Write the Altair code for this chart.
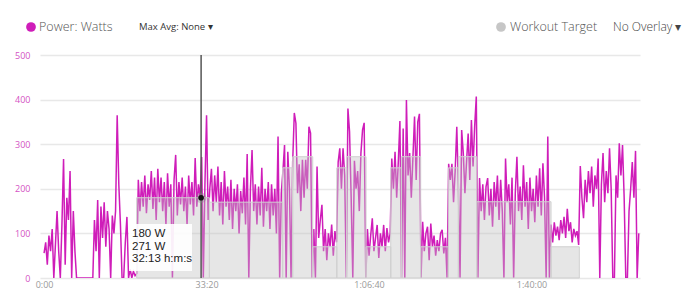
import altair as alt
import pandas as pd

# ---------------- data ----------------
SAMPLE_SECONDS = 20

warmup = [56, 80, 30, 95, 60, 110, 0, 75, 150,
          60, 0, 120, 267, 30, 180, 130, 240, 0, 150, 60, 0,
          0, 0, 0, 0, 0, 0, 0, 0, 0, 0,
          130, 60, 175, 0, 160, 90, 170, 70, 150, 110, 0, 140, 100, 150, 365, 210,
          120, 0, 0, 80, 137, 0, 20, 0, 15, 5]
block_b = [10, 220, 150, 215, 160, 230, 145, 210, 175, 240, 155, 225, 130, 245, 170,
           225, 150, 215, 120, 235, 160, 210, 0, 220, 276, 140, 215, 165, 225, 150,
           205, 120, 230, 165, 215, 140, 269, 160, 210, 180, 271, 0, 210, 365, 130]
block_c = [200, 245, 150, 230, 170, 250, 140, 215, 120, 240, 160, 205, 130, 220, 110,
           200, 150, 210, 100, 195, 145, 225, 120, 278, 0, 200, 287, 150, 210, 120,
           205, 140, 247, 115, 200, 150, 215, 110, 210, 140, 200, 100, 317, 0, 190]
set1_on = [240, 298, 0, 283, 200, 0, 260, 370, 347, 190, 255, 150, 265, 180, 265, 200, 339, 325]
set1_off = [0, 110, 0, 250, 90, 130, 164, 60, 110, 40, 100, 70, 120, 50, 105]
set2_on = [80, 260, 291, 200, 291, 230, 0, 380, 328, 180, 0, 263, 200, 240, 150, 280, 332, 348]
set2_off = [0, 110, 50, 95, 134, 60, 90, 119, 45, 100, 70, 119, 60, 112, 80]
set3_on = [100, 268, 200, 283, 180, 260, 352, 0, 335, 0, 399, 230, 280, 180, 270, 362, 220, 350, 368]
set3_off = [0, 126, 60, 100, 115, 40, 122, 70, 95, 50, 85, 60, 100, 108, 55, 90, 0]
set4_on = [256, 220, 256, 170, 240, 339, 200, 0, 332, 280, 190, 260, 324, 220, 354, 250, 340, 407]
tempo = [0, 224, 150, 210, 130, 205, 224, 140, 200, 115, 215, 160, 230, 130, 220,
         150, 0, 268, 170, 210, 120, 225, 0, 190, 272, 150, 205, 130, 253, 160,
         215, 110, 225, 150, 200, 125, 230, 160, 246, 140, 257, 180, 0, 317, 0]
cool1 = [120, 80, 125, 95, 115, 85, 130, 100, 137, 90, 155, 105, 125, 80, 110, 95, 105, 74]
cool2 = [251, 180, 134, 220, 170, 240, 190, 250, 160, 230, 200, 268, 0, 210, 280, 170,
         240, 190, 291, 200, 0, 0, 230, 180, 302, 230, 298, 180, 0, 0, 150, 200, 260,
         180, 285, 0, 100]

block_starts = [0, 1140, 2040, 2940, 3300, 3600, 3960, 4260, 4640, 4980, 5340, 6240, 6600]
blocks = [warmup, block_b, block_c, set1_on, set1_off, set2_on, set2_off,
          set3_on, set3_off, set4_on, tempo, cool1, cool2]

target_start = [1140, 2035, 2937, 3060, 3307, 3603, 3725, 3963, 4267, 4398, 4636, 4976, 5099, 5326, 6240]
target_end = [2035, 2937, 3060, 3307, 3603, 3725, 3963, 4267, 4398, 4636, 4976, 5099, 5326, 6240, 6588]
target_watts = [180, 170, 247, 272, 70, 247, 272, 70, 247, 272, 70, 247, 272, 171, 70]

x_ticks = [0, 2000, 4000, 6000]
y_ticks = [0, 100, 200, 300, 400, 500]

cursor_time = 1933
cursor_target = 180
tooltip_lines = ["180 W", "271 W", "32:13 h:m:s"]

header_left = ["Power: Watts", "Max Avg: None \u25BE"]
header_right = ["Workout Target", "No Overlay \u25BE"]

# ---------------- tables ----------------
rows = []
for start, vals in zip(block_starts, blocks):
    for k, w in enumerate(vals):
        rows.append({"t": start + k * SAMPLE_SECONDS, "w": w})
power_df = pd.DataFrame(rows)
target_df = pd.DataFrame({"t0": target_start, "t1": target_end, "w": target_watts})
cursor_df = pd.DataFrame({"t": [cursor_time], "w": [cursor_target]})
one = pd.DataFrame({"a": [0]})

MAGENTA = "#cf1db9"
W, H = 600, 223

x_scale = alt.Scale(domain=[-50, 7335], nice=False, zero=False)
y_scale = alt.Scale(domain=[0, 500], nice=False)

label_expr = (
    "datum.value >= 3600 ? "
    "floor(datum.value/3600) + ':' + (floor((datum.value%3600)/60) < 10 ? '0' : '') + floor((datum.value%3600)/60)"
    " + ':' + ((datum.value%60) < 10 ? '0' : '') + (datum.value%60)"
    " : floor(datum.value/60) + ':' + ((datum.value%60) < 10 ? '0' : '') + (datum.value%60)"
)

power = alt.Chart(power_df).mark_line(color=MAGENTA, strokeWidth=1.5, clip=True).encode(
    x=alt.X("t:Q", scale=x_scale,
            axis=alt.Axis(values=x_ticks, labelExpr=label_expr, grid=False, ticks=False,
                          domain=False, labelColor="#999999", labelFontSize=9,
                          labelFont="Open Sans", labelPadding=2, title=None)),
    y=alt.Y("w:Q", scale=y_scale,
            axis=alt.Axis(values=y_ticks, grid=True, gridColor="#e8e8e8", gridWidth=1.5,
                          ticks=False, domain=False, labelColor="#d452c4", labelFontSize=9,
                          labelFont="Open Sans", labelPadding=10, title=None)),
)

target = alt.Chart(target_df).mark_rect(
    fill="#c0c0c0", fillOpacity=0.4, stroke="#d0d0d0", strokeWidth=1
).encode(x="t0:Q", x2="t1:Q", y="w:Q", y2=alt.datum(0))

cursor_rule = alt.Chart(cursor_df).mark_rule(color="#555555", strokeWidth=1.5).encode(
    x="t:Q", y=alt.value(0), y2=alt.value(H)
)
halo = alt.Chart(cursor_df).mark_circle(color="#888888", opacity=0.35, size=110).encode(x="t:Q", y="w:Q")
dot = alt.Chart(cursor_df).mark_circle(color="#111111", opacity=1, size=32).encode(x="t:Q", y="w:Q")

box = alt.Chart(one).mark_rect(fill="white", opacity=0.9).encode(
    x=alt.value(89), x2=alt.value(152), y=alt.value(169), y2=alt.value(216)
)
tip_layers = []
for i, line in enumerate(tooltip_lines):
    tip_layers.append(
        alt.Chart(one).mark_text(align="left", baseline="middle", fontSize=11.5,
                                 font="Liberation Sans", color="#222222", text=line)
        .encode(x=alt.value(92), y=alt.value(179 + i * 12.7))
    )

hdr_y = -28
header = [
    alt.Chart(one).mark_circle(color=MAGENTA, opacity=1, size=95).encode(x=alt.value(-9), y=alt.value(hdr_y)),
    alt.Chart(one).mark_text(align="left", baseline="middle", fontSize=12.5, font="Open Sans",
                             fontWeight=300, color="#555555", text=header_left[0])
    .encode(x=alt.value(-1), y=alt.value(hdr_y)),
    alt.Chart(one).mark_text(align="left", baseline="middle", fontSize=9.5, font="Open Sans",
                             color="#333333", text=header_left[1])
    .encode(x=alt.value(99), y=alt.value(hdr_y)),
    alt.Chart(one).mark_circle(color="#c6c6c6", opacity=1, size=95).encode(x=alt.value(461), y=alt.value(hdr_y)),
    alt.Chart(one).mark_text(align="left", baseline="middle", fontSize=12.5, font="Open Sans",
                             fontWeight=300, color="#555555", text=header_right[0])
    .encode(x=alt.value(470), y=alt.value(hdr_y)),
    alt.Chart(one).mark_text(align="left", baseline="middle", fontSize=12, font="Open Sans",
                             fontWeight=300, color="#444444", text=header_right[1])
    .encode(x=alt.value(573), y=alt.value(hdr_y)),
]

chart = alt.layer(power, target, cursor_rule, halo, dot, box, *tip_layers, *header).properties(
    width=W, height=H,
    autosize=alt.AutoSizeParams(type="none"),
    padding={"left": 40, "top": 55, "right": 50, "bottom": 12},
    background="white",
).configure_view(stroke=None)

chart.save("out.html", embed_options={"renderer": "svg", "actions": False})
